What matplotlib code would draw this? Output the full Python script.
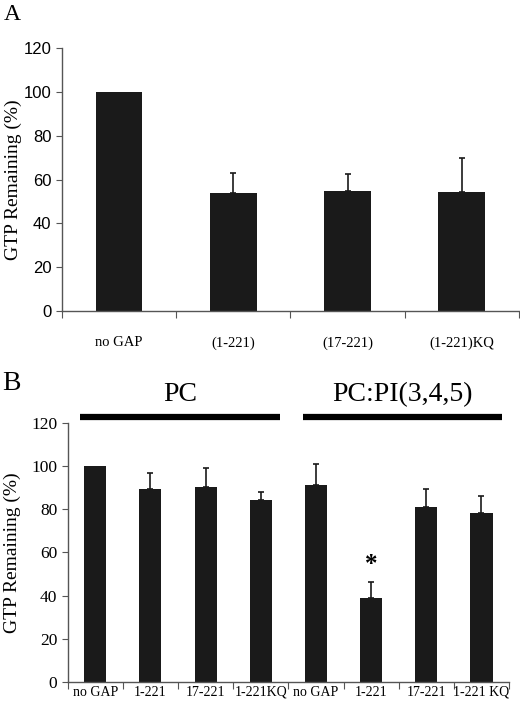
import matplotlib.pyplot as plt
import numpy as np

plt.rcParams['font.family'] = ['Liberation Serif', 'DejaVu Serif']

# panel A
a_labels = ['no GAP', '(1-221)', '(17-221)', '(1-221)KQ']
a_values = [100, 54.1, 55.0, 54.5]
a_err = [0, 8.8, 7.6, 15.3]

# panel B
b_labels = ['no GAP', '1-221', '17-221', '1-221KQ', 'no GAP', '1-221', '17-221', '1-221 KQ']
b_values = [100.2, 89.3, 90.4, 84.5, 91.2, 39.0, 81.0, 78.5]
b_err = [0, 7.5, 9.0, 3.6, 10.0, 7.3, 8.3, 7.9]
groups = ['PC', 'PC:PI(3,4,5)']

bar_col = '#1a1a1a'
spine_col = '#555555'

fig = plt.figure(figsize=(5.2, 7.08), dpi=100)

def style_axes(ax, n):
    ax.set_xlim(-0.5, n - 0.5)
    ax.set_ylim(0, 120)
    ax.set_yticks(np.arange(0, 121, 20))
    ax.spines['top'].set_visible(False)
    ax.spines['right'].set_visible(False)
    for s in ['left', 'bottom']:
        ax.spines[s].set_color(spine_col)
        ax.spines[s].set_linewidth(1.0)
    # ticks between categories
    ax.set_xticks(np.arange(-0.5, n, 1.0))
    ax.set_xticklabels([])
    ax.set_xticks(np.arange(n), minor=True)
    ax.tick_params(axis='x', which='major', direction='out', length=5, color=spine_col)
    ax.tick_params(axis='x', which='minor', length=0)
    ax.tick_params(axis='y', direction='out', length=4, color=spine_col)

def draw_bars(ax, vals, errs, w):
    x = np.arange(len(vals))
    ax.bar(x, vals, width=w, color=bar_col, edgecolor='none')
    # only upward error bars, and only where there is one
    for xi, v, e in zip(x, vals, errs):
        if e > 0:
            ax.errorbar(xi, v, yerr=[[0], [e]], fmt='none', ecolor=bar_col,
                        elinewidth=1.2, capsize=2.5, capthick=1.2)
    return x

# ---- A ----
axA = fig.add_axes([0.119, 0.5607, 0.879, 0.3713])
draw_bars(axA, a_values, a_err, 0.41)
style_axes(axA, len(a_values))
axA.set_xticklabels(a_labels, minor=True, fontsize=10.5)
axA.tick_params(axis='x', which='minor', pad=18)
for t in axA.get_yticklabels():
    t.set_family(['Liberation Sans', 'DejaVu Sans'])
    t.set_fontsize(12)
axA.set_ylabel('GTP Remaining (%)', fontsize=14)
axA.yaxis.set_label_coords(-0.087, 0.5)
fig.text(0.008, 0.994, 'A', fontsize=17, va='top', ha='left')

# ---- B ----
axB = fig.add_axes([0.130, 0.0371, 0.849, 0.3651])
xb = draw_bars(axB, b_values, b_err, 0.4)
style_axes(axB, len(b_values))
axB.set_xticklabels(b_labels, minor=True, fontsize=10)
axB.tick_params(axis='x', which='minor', pad=3)
axB.tick_params(axis='y', labelsize=12.5)
axB.set_ylabel('GTP Remaining (%)', fontsize=14)
axB.yaxis.set_label_coords(-0.105, 0.5)

# significance star
axB.text(xb[5], b_values[5] + b_err[5] + 3, '*', ha='center', va='bottom', fontsize=18, fontweight='bold')

# group bars above the plot
for (x0, x1), name in zip([(-0.28, 3.35), (3.76, 7.38)], groups):
    axB.plot([x0, x1], [123, 123], color='black', lw=4.5, clip_on=False, solid_capstyle='butt')
    axB.text((x0 + x1) / 2, 127.5, name, ha='center', va='bottom', fontsize=20, clip_on=False)

fig.text(0.004, 0.459, 'B', fontsize=20, va='center', ha='left')

fig.savefig('out.png', dpi=100)
